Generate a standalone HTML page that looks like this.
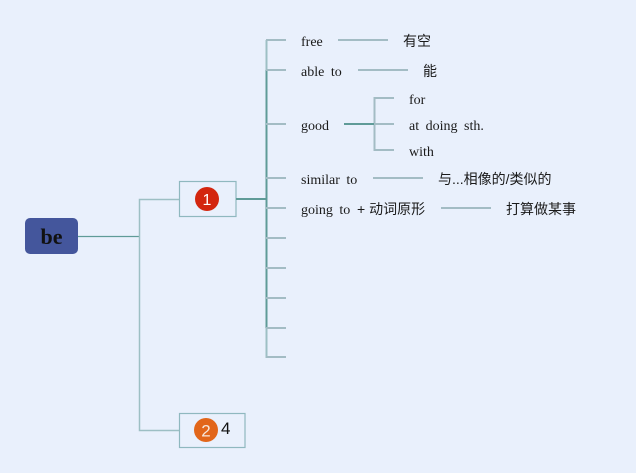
<!DOCTYPE html>
<html><head><meta charset="utf-8"><style>
html,body{margin:0;padding:0;background:#e9f0fc;}
svg{display:block;}
.en{font-family:"Liberation Serif",serif;font-size:14px;fill:#1a1a1a;word-spacing:3px;}
.zh{font-family:"Liberation Sans","Noto Sans CJK SC",sans-serif;font-size:14px;fill:#1a1a1a;}
</style></head><body>
<svg width="636" height="473" viewBox="0 0 636 473" xmlns="http://www.w3.org/2000/svg">
<rect width="636" height="473" fill="#e9f0fc"/>
<!-- root -->
<rect x="25" y="218" width="53" height="36" rx="5" fill="#44569c"/>
<text x="51.5" y="244" text-anchor="middle" font-family="Liberation Serif,serif" font-weight="bold" font-size="22" fill="#111">be</text>
<line x1="78" y1="236.5" x2="139" y2="236.5" stroke="#5f9b98" stroke-width="1.2"/>
<!-- level1 connectors -->
<path d="M179 199.5 H139.5 V430.5 H179" fill="none" stroke="#9dbfc4" stroke-width="1.5"/>
<!-- box 1 -->
<rect x="179.5" y="181.5" width="56.5" height="35" fill="#e9f0fc" stroke="#8fb8bf" stroke-width="1.2"/>
<circle cx="207" cy="199" r="12" fill="#d3260f"/>
<text x="207" y="205" text-anchor="middle" font-family="Liberation Sans,sans-serif" font-size="16" fill="#fff">1</text>
<!-- box 2 -->
<rect x="179.5" y="413.5" width="65.5" height="34" fill="#e9f0fc" stroke="#8fb8bf" stroke-width="1.2"/>
<circle cx="206" cy="430" r="12" fill="#e2661a"/>
<text x="206" y="436.5" text-anchor="middle" font-family="Liberation Sans,sans-serif" font-size="17" fill="#f6e7dc">2</text>
<text x="221" y="434" font-family="Liberation Sans,sans-serif" font-size="17" fill="#111">4</text>
<!-- main spine -->
<line x1="236" y1="199" x2="266" y2="199" stroke="#5f9b98" stroke-width="2"/>
<line x1="266.5" y1="40" x2="266.5" y2="70" stroke="#9dbfc4" stroke-width="2"/>
<line x1="266.5" y1="70" x2="266.5" y2="328" stroke="#5f9b98" stroke-width="2"/>
<line x1="266.5" y1="328" x2="266.5" y2="358" stroke="#9dbfc4" stroke-width="2"/>
<g stroke="#a3bcc4" stroke-width="2">
<line x1="266" y1="40" x2="286" y2="40"/>
<line x1="266" y1="70" x2="286" y2="70"/>
<line x1="266" y1="124" x2="286" y2="124"/>
<line x1="266" y1="178" x2="286" y2="178"/>
<line x1="266" y1="208" x2="286" y2="208"/>
<line x1="266" y1="238" x2="286" y2="238"/>
<line x1="266" y1="268" x2="286" y2="268"/>
<line x1="266" y1="298" x2="286" y2="298"/>
<line x1="266" y1="328" x2="286" y2="328"/>
<line x1="266" y1="357" x2="286" y2="357"/>
<!-- sub connectors -->
<line x1="338" y1="40" x2="388" y2="40"/>
<line x1="358" y1="70" x2="408" y2="70"/>
<line x1="373" y1="178" x2="423" y2="178"/>
<line x1="441" y1="208" x2="491" y2="208"/>
<path d="M394 98 H374.5 V150 H394 M374 124 H394" fill="none"/>
</g>
<line x1="344" y1="124" x2="374" y2="124" stroke="#5f9b98" stroke-width="2"/>
<!-- labels -->
<text class="en" x="301" y="46">free</text>
<text class="zh" x="403" y="46">有空</text>
<text class="en" x="301" y="76">able to</text>
<text class="zh" x="423" y="76">能</text>
<text class="en" x="301" y="130">good</text>
<text class="en" x="409" y="104">for</text>
<text class="en" x="409" y="130">at doing sth.</text>
<text class="en" x="409" y="156">with</text>
<text class="en" x="301" y="184">similar to</text>
<text class="zh" x="438" y="184">与...相像的/类似的</text>
<text class="en" x="301" y="214">going to</text>
<text class="zh" x="357" y="214">+ 动词原形</text>
<text class="zh" x="506" y="214">打算做某事</text>
</svg>
</body></html>
